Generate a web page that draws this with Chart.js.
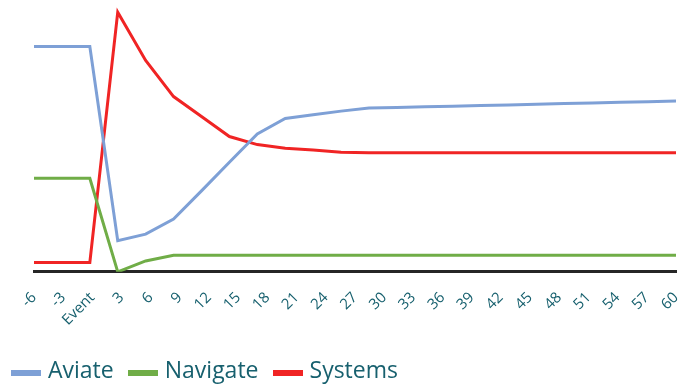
<!DOCTYPE html>
<html>
<head>
<meta charset="utf-8">
<script src="https://cdn.jsdelivr.net/npm/chart.js@4.4.1/dist/chart.umd.min.js"></script>
<style>
  html, body { margin: 0; padding: 0; background: #ffffff; }
  #wrap { position: relative; width: 693px; height: 385px; }
  #legend {
    position: absolute; left: 11px; top: 358px;
    display: flex; align-items: flex-start;
    font-family: 'Open Sans', sans-serif; font-size: 23px; line-height: 23px;
    color: #17606E;
  }
  .item { display: flex; align-items: flex-start; margin-right: 14px; }
  .sw { width: 30px; height: 6px; margin-top: 12px; margin-right: 7px; }
</style>
</head>
<body>
<div id="wrap">
  <canvas id="chart" width="693" height="385"></canvas>
  <div id="legend"></div>
</div>
<script>
// Axis tick labels (minutes relative to the event)
const tickLabels = ['-6', '-3', 'Event', '3', '6', '9', '12', '15', '18', '21', '24', '27',
                    '30', '33', '36', '39', '42', '45', '48', '51', '54', '57', '60'];

// Workload share per sample
const aviate   = [86.8, 86.8, 86.8, 12.0, 14.5, 20.3, 31.2, 42.2, 53.1, 59.1, 60.5, 61.9,
                  63.1, 63.3, 63.6, 63.8, 64.1, 64.3, 64.5, 64.8, 65.0, 65.3, 65.5, 65.8];
const navigate = [36.0, 36.0, 36.0, 0.0, 4.2, 6.4, 6.4, 6.4, 6.4, 6.4, 6.4, 6.4,
                  6.4, 6.4, 6.4, 6.4, 6.4, 6.4, 6.4, 6.4, 6.4, 6.4, 6.4, 6.4];
const systems  = [3.6, 3.6, 3.6, 100.0, 81.4, 67.5, 59.8, 52.1, 49.0, 47.6, 46.9, 46.1,
                  45.9, 45.9, 45.9, 45.9, 45.9, 45.9, 45.9, 45.9, 45.9, 45.9, 45.9, 45.9];

const seriesNames  = ['Aviate', 'Navigate', 'Systems'];
const seriesColors = ['#7EA0D6', '#70AD47', '#F02424'];

// Sample slots spread evenly across the same width as the labelled axis
const sampleSlots = aviate.map((_, i) => String(i));

const teal = '#17606E';

const datasets = [aviate, navigate, systems].map((values, i) => ({
  label: seriesNames[i],
  data: values,
  xAxisID: 'xs',
  yAxisID: 'y',
  borderColor: seriesColors[i],
  backgroundColor: seriesColors[i],
  borderWidth: 3,
  pointRadius: 0,
  pointHoverRadius: 0,
  tension: 0,
  fill: false
}));

const chart = new Chart(document.getElementById('chart'), {
  type: 'line',
  data: { labels: sampleSlots, datasets },
  options: {
    responsive: false,
    animation: false,
    layout: { padding: { top: 7, right: 17, bottom: 39, left: 34 } },
    plugins: { legend: { display: false }, tooltip: { enabled: false } },
    scales: {
      xs: {
        type: 'category',
        labels: sampleSlots,
        display: false,
        offset: false
      },
      x: {
        type: 'category',
        labels: tickLabels,
        position: 'bottom',
        offset: false,
        // keep the plot edges fixed by the layout padding alone
        afterFit: scale => { scale.paddingLeft = 0; scale.paddingRight = 0; },
        grid: { display: false, drawTicks: false },
        border: { display: true, color: '#262626', width: 3 },
        ticks: {
          color: teal,
          autoSkip: false,
          maxRotation: 45,
          minRotation: 45,
          padding: 17,
          font: { family: "'Open Sans', sans-serif", size: 15 }
        }
      },
      y: {
        display: false,
        min: 0,
        max: 102
      }
    }
  }
});

// Legend built from the chart's datasets
const legend = document.getElementById('legend');
chart.data.datasets.forEach(ds => {
  const item = document.createElement('div');
  item.className = 'item';
  const sw = document.createElement('div');
  sw.className = 'sw';
  sw.style.background = ds.borderColor;
  const txt = document.createElement('span');
  txt.textContent = ds.label;
  item.appendChild(sw);
  item.appendChild(txt);
  legend.appendChild(item);
});
</script>
</body>
</html>
